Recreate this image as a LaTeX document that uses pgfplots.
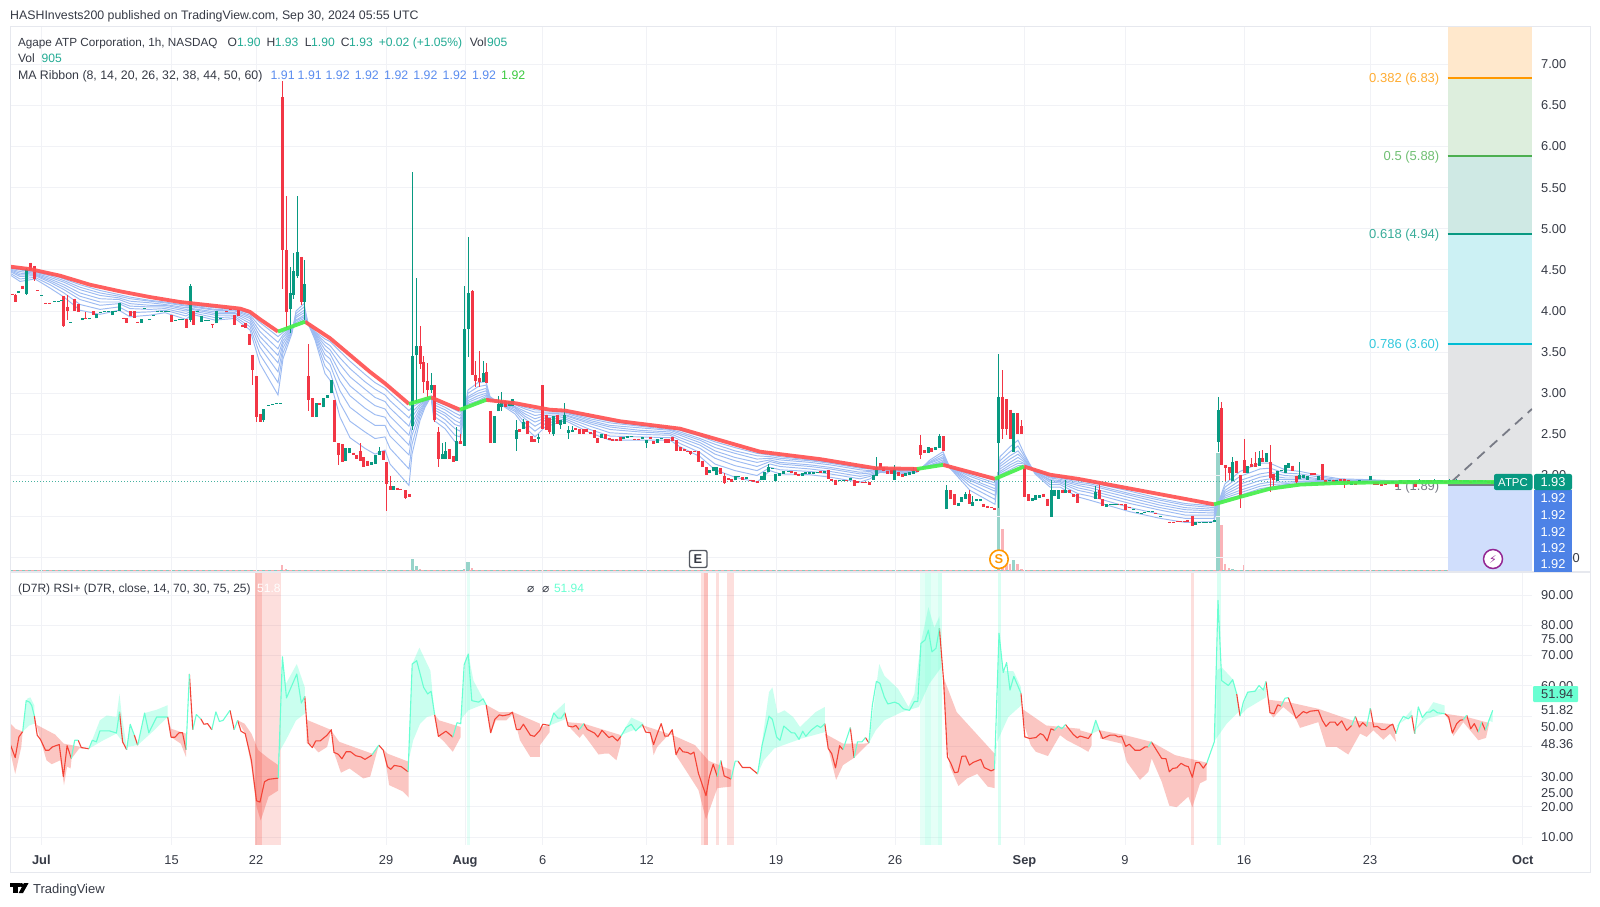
\documentclass[border=0pt]{standalone}
\usepackage{pgfplots}
\usepackage{pgfplotstable}
\usepackage{fontspec}
\setmainfont{Liberation Sans}
\newfontfamily\djv{DejaVu Sans}
\pgfplotsset{compat=1.18}
\definecolor{gridc}{HTML}{F1F2F6}
\definecolor{frame}{HTML}{E6E8EE}
\definecolor{txt}{HTML}{363A45}
\definecolor{cred}{HTML}{F23645}
\definecolor{cgreen}{HTML}{089981}
\definecolor{lgreen}{HTML}{22AB94}
\definecolor{rib}{HTML}{9DBBF2}
\definecolor{mared}{HTML}{FF5252}
\definecolor{magreen}{HTML}{45EE4A}
\definecolor{tagblue}{HTML}{4D82E6}
\definecolor{valblue}{HTML}{5B8DEF}
\definecolor{rsir}{HTML}{F44336}
\definecolor{rsit}{HTML}{69FFD2}
\definecolor{fiborange}{HTML}{FF9800}
\definecolor{fibgreen}{HTML}{4CAF50}
\definecolor{fibcyan}{HTML}{00BCD4}
\definecolor{fibgray}{HTML}{787B86}
\definecolor{bandA}{HTML}{FFE8CC}
\definecolor{bandB}{HTML}{DDEEDD}
\definecolor{bandC}{HTML}{CFE9E4}
\definecolor{bandD}{HTML}{CCF1F4}
\definecolor{bandE}{HTML}{E3E4E6}
\definecolor{bandF}{HTML}{D0DEFC}
\def\fsz{12.6}
\newcommand{\fnt}{\fontsize{\fsz}{15}\selectfont}
\newcommand{\tl}[4][txt]{\node[anchor=base west,inner sep=0pt,text=#1,font=\fnt] at (#2pt,{(906-#3-4.5)*1pt}) {#4};}
\newcommand{\tr}[4][txt]{\node[anchor=base east,inner sep=0pt,text=#1,font=\fnt] at (#2pt,{(906-#3-4.5)*1pt}) {#4};}
\newcommand{\tc}[4][txt]{\node[anchor=base,inner sep=0pt,text=#1,font=\fnt] at (#2pt,{(906-#3-4.5)*1pt}) {#4};}

\pgfplotstableread{
x o h l c
12 4.21 4.21 4.20 4.20
15 4.19 4.21 4.11 4.11
22.5 4.31 4.31 4.27 4.27
30.4 4.59 4.59 4.50 4.50
34 4.55 4.55 4.37 4.39
37.5 4.25 4.25 4.24 4.24
45 4.10 4.10 4.09 4.09
49 4.10 4.10 4.09 4.09
63.6 4.18 4.18 3.81 3.82
67 4.05 4.20 3.89 4.00
74 4.15 4.15 4.00 4.00
78 4.08 4.08 3.99 3.99
85.7 3.92 3.99 3.90 3.91
93.6 4.00 4.00 3.95 3.95
123 3.92 3.92 3.91 3.91
126 3.91 3.91 3.86 3.86
130 4.00 4.00 3.94 3.94
134 4.00 4.00 3.92 3.92
137.5 3.87 3.87 3.85 3.85
171 3.95 3.95 3.87 3.87
186 3.90 3.90 3.79 3.79
193 4.00 4.00 3.83 3.83
212.5 3.84 3.84 3.79 3.83
226 4.00 4.00 3.99 3.99
230 4.02 4.02 4.01 4.01
234 3.95 3.95 3.83 3.83
238 4.01 4.01 3.94 3.94
242 3.83 3.83 3.80 3.80
245 3.85 3.85 3.79 3.79
249 3.72 3.72 3.59 3.59
252.5 3.47 3.47 3.10 3.28
256 3.21 3.21 2.65 2.71
260 2.75 2.75 2.65 2.65
282 6.60 6.80 4.27 4.74
286 4.74 5.40 3.79 3.99
301.4 4.66 4.66 4.07 4.11
308.6 3.21 3.60 2.79 2.92
312 2.94 2.94 2.71 2.71
319.6 2.88 2.88 2.86 2.86
334 2.92 2.92 2.41 2.41
338 2.39 2.39 2.13 2.25
342 2.38 2.38 2.17 2.17
353 2.28 2.28 2.25 2.25
356 2.25 2.25 2.20 2.20
360 2.30 2.39 2.18 2.18
363.6 2.22 2.22 2.10 2.10
367 2.18 2.18 2.12 2.12
383 2.30 2.30 2.19 2.19
386.4 2.16 2.16 1.57 1.90
390 1.87 1.99 1.82 1.82
397 1.85 1.85 1.82 1.82
400.7 1.84 1.84 1.82 1.82
405 1.82 1.82 1.71 1.73
409 1.77 1.77 1.74 1.74
420 3.57 3.82 3.30 3.36
423.6 3.38 3.45 3.00 3.14
427.5 3.15 3.37 2.95 3.04
434.6 3.10 3.10 2.65 2.67
438.6 2.53 2.59 2.11 2.20
449 2.32 2.32 2.20 2.20
453 2.24 2.24 2.16 2.16
460.7 2.42 2.50 2.38 2.38
472 4.24 4.26 3.22 3.22
475.4 3.22 3.39 3.08 3.15
479 3.19 3.51 3.08 3.14
486.4 3.26 3.37 3.12 3.12
490 2.79 2.79 2.39 2.39
505 2.91 2.91 2.83 2.83
519.6 2.56 2.56 2.53 2.53
527.5 2.66 2.66 2.51 2.51
531 2.48 2.48 2.41 2.41
534.6 2.44 2.44 2.41 2.41
542.7 3.10 3.10 2.56 2.56
546.4 2.74 2.74 2.55 2.55
549.6 2.70 2.70 2.51 2.53
557 2.74 2.74 2.63 2.63
575.5 2.58 2.58 2.55 2.55
579 2.57 2.57 2.51 2.51
583 2.57 2.57 2.50 2.50
586.5 2.57 2.57 2.53 2.53
590 2.53 2.53 2.51 2.51
594 2.55 2.55 2.46 2.46
597.5 2.46 2.46 2.40 2.40
605.4 2.50 2.50 2.45 2.45
609 2.46 2.46 2.43 2.43
612.3 2.45 2.45 2.42 2.42
616.4 2.44 2.44 2.42 2.42
620 2.47 2.47 2.42 2.42
634.7 2.45 2.45 2.43 2.43
638.8 2.45 2.45 2.43 2.43
650 2.47 2.47 2.44 2.44
653.6 2.42 2.42 2.38 2.38
665 2.45 2.45 2.40 2.40
668.4 2.45 2.45 2.40 2.40
672.6 2.47 2.47 2.42 2.42
676.4 2.43 2.43 2.30 2.30
680 2.35 2.35 2.30 2.30
684 2.32 2.32 2.30 2.30
687.4 2.30 2.30 2.29 2.29
690.8 2.30 2.30 2.25 2.26
694.3 2.30 2.30 2.29 2.29
698.4 2.30 2.30 2.17 2.17
702 2.18 2.18 2.11 2.11
706 2.10 2.10 2.01 2.01
720.8 2.09 2.09 2.02 2.02
724.2 1.99 2.03 1.90 1.91
728 1.97 1.97 1.94 1.94
731.5 1.96 1.96 1.92 1.92
742.5 1.98 1.98 1.95 1.95
750 1.95 1.95 1.93 1.93
753.5 1.94 1.94 1.92 1.92
757.3 1.93 1.93 1.91 1.91
791.7 2.05 2.05 2.03 2.03
795.2 2.04 2.04 2.01 2.01
798.6 2.02 2.02 1.99 1.99
820.6 2.05 2.05 2.03 2.03
828.2 2.07 2.07 1.96 1.96
831.7 1.96 1.96 1.93 1.93
835 1.95 1.95 1.89 1.89
846.5 1.94 1.94 1.93 1.93
854 1.94 1.94 1.87 1.87
857.8 1.93 1.93 1.91 1.91
862 1.92 1.92 1.91 1.91
865.4 1.92 1.92 1.91 1.91
869.2 1.92 1.92 1.89 1.89
880.2 2.15 2.15 2.09 2.09
883.7 2.11 2.11 2.06 2.06
887.5 2.06 2.06 2.02 2.02
891.2 2.07 2.07 2.02 2.02
898.5 2.04 2.04 2.00 2.00
902 2.02 2.02 1.98 1.98
917 2.08 2.08 2.04 2.04
920.9 2.37 2.49 2.20 2.25
924.3 2.31 2.31 2.27 2.27
931.9 2.34 2.34 2.29 2.29
943.2 2.48 2.48 2.30 2.30
950.5 1.82 1.82 1.72 1.72
954.3 1.77 1.77 1.64 1.64
969 1.78 1.82 1.66 1.66
983.9 1.66 1.66 1.62 1.62
987.3 1.63 1.63 1.61 1.61
991 1.62 1.62 1.60 1.60
994.6 1.60 1.60 1.58 1.58
1002.8 2.96 3.28 2.45 2.57
1006.3 2.93 2.93 2.49 2.57
1010 2.80 2.80 2.45 2.45
1017.6 2.76 2.76 2.51 2.51
1021.4 2.60 2.68 2.50 2.50
1024.5 2.11 2.11 1.74 1.74
1028.3 1.77 1.77 1.69 1.69
1043 1.78 1.78 1.74 1.74
1047.2 1.72 1.72 1.63 1.63
1062 1.83 1.83 1.79 1.79
1069.3 1.82 1.82 1.79 1.79
1073 1.77 1.77 1.74 1.74
1077 1.78 1.78 1.67 1.67
1099 1.82 1.88 1.71 1.71
1102.7 1.71 1.71 1.63 1.63
1117 1.66 1.66 1.65 1.65
1121.7 1.65 1.65 1.64 1.64
1125 1.65 1.65 1.58 1.58
1129 1.62 1.62 1.61 1.61
1155 1.55 1.55 1.53 1.53
1169 1.44 1.44 1.43 1.43
1173 1.44 1.44 1.43 1.43
1177 1.45 1.45 1.44 1.44
1180 1.45 1.45 1.44 1.44
1184 1.45 1.45 1.43 1.43
1187 1.46 1.46 1.44 1.44
1192 1.51 1.51 1.39 1.39
1221.7 2.82 2.90 2.13 2.13
1225 2.13 2.13 1.93 2.09
1229 2.10 2.10 1.94 2.03
1236.7 2.18 2.18 2.03 2.03
1240 2.01 2.01 1.61 1.73
1244 2.19 2.44 2.03 2.03
1251 2.14 2.21 2.10 2.10
1255 2.15 2.29 2.11 2.11
1262.7 2.21 2.31 2.17 2.17
1270 2.17 2.37 1.80 1.97
1273.7 2.02 2.02 1.87 1.95
1292 2.12 2.12 2.06 2.06
1296 2.00 2.00 1.90 1.92
1311 2.03 2.03 2.01 2.01
1314.7 2.03 2.03 2.01 2.01
1322 2.14 2.14 1.95 1.95
1325.7 1.94 1.94 1.90 1.90
1333 1.95 1.95 1.92 1.92
1340.7 1.96 1.96 1.93 1.93
1344 1.96 1.96 1.85 1.92
1348 1.95 1.95 1.90 1.90
1355.3 1.91 1.91 1.89 1.89
1374 1.92 1.92 1.88 1.88
1377.7 1.92 1.92 1.88 1.88
1381.7 1.90 1.90 1.87 1.87
1385 1.91 1.91 1.88 1.88
1388.7 1.92 1.92 1.90 1.90
1396 1.90 1.90 1.86 1.86
1404 1.92 1.92 1.90 1.90
1415 1.92 1.92 1.86 1.86
1430 1.94 1.94 1.92 1.92
1445 1.93 1.93 1.91 1.91
1460 1.94 1.94 1.92 1.92
1470 1.93 1.93 1.91 1.91
1478 1.94 1.94 1.92 1.92
1488 1.93 1.93 1.91 1.91
}\redc

\pgfplotstableread{
x o h l c
18.6 4.22 4.24 4.22 4.24
26 4.21 4.52 4.20 4.51
41 4.19 4.20 4.19 4.20
54 4.11 4.12 4.11 4.12
58 4.11 4.12 4.11 4.12
61 4.12 4.13 4.12 4.13
70.7 3.86 3.87 3.86 3.87
82 3.89 3.92 3.89 3.92
89 3.90 3.91 3.90 3.91
96.4 3.91 3.96 3.91 3.96
100 3.98 3.99 3.98 3.99
104 3.99 4.00 3.99 4.00
108 3.99 4.00 3.99 4.00
112 3.95 4.00 3.95 4.00
115 3.99 4.00 3.99 4.00
119 4.00 4.10 4.00 4.10
141 3.86 3.90 3.86 3.90
144.6 4.03 4.04 4.03 4.04
149 3.89 3.90 3.89 3.90
153 3.94 3.95 3.94 3.95
157 3.99 4.00 3.99 4.00
161 3.99 4.00 3.99 4.00
165 3.99 4.00 3.99 4.00
168 3.99 4.00 3.99 4.00
175 3.88 3.89 3.88 3.89
179 3.89 3.90 3.89 3.90
182 3.89 3.90 3.89 3.90
190 3.89 4.33 3.87 4.31
197 3.99 4.00 3.99 4.00
201 3.87 3.94 3.87 3.94
205 3.88 3.89 3.88 3.89
208 3.88 3.89 3.88 3.89
216 3.85 4.00 3.85 4.00
220 3.91 3.92 3.91 3.92
263.6 2.67 2.81 2.65 2.81
268 2.85 2.86 2.85 2.86
272 2.86 2.87 2.86 2.87
276 2.87 2.88 2.87 2.88
280 2.87 2.88 2.87 2.88
290 4.02 4.54 3.73 4.22
293.6 4.20 4.70 4.15 4.49
297.5 4.42 5.40 4.40 4.72
304.6 4.11 4.62 3.89 4.33
316 2.71 2.88 2.71 2.88
323 2.83 2.94 2.83 2.94
327 2.94 2.98 2.94 2.98
331 3.00 3.16 3.00 3.16
345 2.18 2.34 2.18 2.34
349 2.27 2.34 2.27 2.34
371 2.13 2.16 2.13 2.16
375 2.14 2.25 2.14 2.25
379 2.25 2.35 2.25 2.30
393.6 1.83 1.87 1.83 1.87
412.5 2.60 5.69 2.55 3.45
416.4 3.46 4.40 2.90 3.57
431 3.04 3.25 3.00 3.10
442 2.20 2.39 2.20 2.26
445.7 2.20 2.41 2.20 2.30
456.8 2.18 2.59 2.18 2.42
464.3 2.36 4.30 2.36 3.78
468 3.78 4.90 3.44 4.22
483 3.14 3.39 3.14 3.25
494 2.40 2.73 2.40 2.73
498 2.78 2.97 2.78 2.87
501.4 2.83 3.01 2.79 2.91
509 2.85 2.91 2.85 2.91
512.5 2.85 2.93 2.85 2.93
516 2.45 2.68 2.30 2.55
523 2.57 2.69 2.57 2.65
538 2.45 2.50 2.40 2.47
553.8 2.50 2.73 2.48 2.73
560.7 2.61 2.67 2.57 2.67
564.8 2.63 2.88 2.63 2.74
568 2.52 2.60 2.44 2.55
572 2.53 2.60 2.53 2.55
601.3 2.46 2.50 2.46 2.50
623.7 2.45 2.47 2.45 2.47
627 2.46 2.48 2.46 2.48
631 2.47 2.48 2.47 2.48
642.6 2.45 2.47 2.45 2.47
646.4 2.39 2.43 2.34 2.43
657.8 2.40 2.44 2.40 2.44
661 2.44 2.46 2.44 2.46
709.4 2.03 2.07 2.03 2.07
713.2 2.05 2.11 2.05 2.11
716.7 2.01 2.11 2.01 2.11
735.2 1.94 2.00 1.94 2.00
738.7 1.98 2.00 1.98 2.00
746.6 1.96 1.98 1.96 1.98
761 1.94 2.00 1.94 2.00
764.9 1.95 2.04 1.95 2.04
768.7 2.04 2.14 2.04 2.10
772 2.08 2.09 2.08 2.09
775.9 1.93 2.02 1.93 2.02
779.7 2.00 2.03 2.00 2.03
783.8 2.02 2.05 2.02 2.05
788 2.05 2.06 2.05 2.06
802.4 2.00 2.03 2.00 2.03
805.8 2.02 2.04 2.02 2.04
809.6 2.02 2.04 2.02 2.04
813.8 2.02 2.04 2.02 2.04
817.2 2.03 2.04 2.03 2.04
824.4 2.03 2.05 2.03 2.05
839 1.94 1.95 1.94 1.95
843 1.94 1.95 1.94 1.95
850.3 1.94 1.97 1.94 1.97
873 1.95 2.01 1.95 2.01
876.4 1.99 2.22 1.99 2.10
894.7 1.95 2.13 1.95 2.08
905.7 2.00 2.03 2.00 2.03
909.5 2.01 2.04 2.01 2.04
913.6 2.02 2.10 2.02 2.05
928 2.28 2.35 2.28 2.35
935.3 2.31 2.35 2.31 2.35
939.5 2.34 2.50 2.34 2.48
946.7 1.59 1.89 1.59 1.83
958 1.63 1.67 1.63 1.67
961.5 1.68 1.74 1.68 1.74
965.3 1.72 1.80 1.72 1.77
972.8 1.63 1.75 1.63 1.68
976.6 1.69 1.71 1.69 1.71
980 1.69 1.71 1.69 1.71
998.7 2.40 3.48 1.60 2.96
1013.5 2.29 2.76 2.29 2.76
1032 1.69 1.73 1.69 1.73
1035.9 1.70 1.76 1.70 1.76
1039.3 1.73 1.76 1.73 1.76
1051 1.50 1.94 1.50 1.82
1054.5 1.75 1.82 1.75 1.82
1058 1.72 1.83 1.72 1.83
1065.5 1.79 1.94 1.79 1.83
1095 1.72 1.87 1.72 1.80
1106.7 1.62 1.66 1.62 1.66
1110 1.64 1.65 1.64 1.65
1113 1.64 1.65 1.64 1.65
1116 1.64 1.65 1.64 1.65
1133 1.58 1.59 1.58 1.59
1137 1.55 1.56 1.55 1.56
1141 1.54 1.55 1.54 1.55
1144 1.55 1.56 1.55 1.56
1148 1.56 1.57 1.56 1.57
1152 1.56 1.57 1.56 1.57
1160 1.50 1.51 1.50 1.51
1195.7 1.40 1.43 1.40 1.43
1199 1.43 1.44 1.43 1.44
1203 1.43 1.44 1.43 1.44
1206 1.43 1.44 1.43 1.44
1210 1.43 1.44 1.43 1.44
1214 1.44 1.46 1.44 1.46
1218 2.41 2.95 2.29 2.80
1232.7 1.93 2.22 1.93 2.17
1247.7 2.03 2.12 2.03 2.12
1259 2.12 2.30 2.12 2.21
1266 2.17 2.28 2.17 2.28
1277 1.93 2.06 1.93 2.06
1281 2.05 2.07 2.05 2.07
1285 2.03 2.13 2.03 2.13
1288.7 2.09 2.15 2.09 2.15
1299.7 1.96 2.17 1.96 2.01
1303 1.97 2.01 1.97 2.01
1307 1.95 2.00 1.95 2.00
1318 1.94 2.00 1.94 2.00
1329 1.93 1.95 1.93 1.95
1336.7 1.92 1.95 1.92 1.95
1351.7 1.89 1.92 1.89 1.92
1359 1.92 1.94 1.92 1.94
1363 1.92 1.93 1.92 1.93
1366.7 1.92 1.93 1.92 1.93
1370.3 1.94 2.00 1.94 2.00
1392.7 1.91 1.93 1.91 1.93
1400 1.91 1.94 1.91 1.94
1408 1.92 1.94 1.92 1.94
1411 1.92 1.93 1.92 1.93
1419 1.92 1.96 1.92 1.94
1423 1.92 1.95 1.92 1.94
1427 1.92 1.94 1.92 1.94
1434 1.93 1.96 1.93 1.95
1438 1.93 1.95 1.93 1.95
1441 1.92 1.95 1.92 1.94
1449 1.92 1.96 1.92 1.94
1453 1.93 1.95 1.93 1.94
1456 1.93 1.96 1.93 1.95
1464 1.92 1.95 1.92 1.94
1467 1.92 1.94 1.92 1.94
1474 1.92 1.95 1.92 1.94
1481 1.92 1.94 1.92 1.94
1485 1.92 1.94 1.92 1.93
1492 1.90 1.93 1.90 1.93
}\greenc

\pgfplotstableread{
x m8 m14 m20 m26 m32 m38 m44 m50
10 4.44 4.46 4.48 4.49 4.50 4.51 4.52 4.53
20 4.36 4.39 4.42 4.44 4.46 4.48 4.50 4.51
35 4.39 4.41 4.43 4.44 4.45 4.46 4.47 4.48
50 4.28 4.32 4.35 4.37 4.39 4.41 4.43 4.45
64 4.17 4.22 4.26 4.29 4.32 4.35 4.37 4.39
80 4.01 4.08 4.14 4.18 4.22 4.26 4.29 4.32
100 3.96 4.02 4.07 4.11 4.15 4.19 4.22 4.25
119 4.01 4.05 4.09 4.11 4.14 4.16 4.18 4.20
130 3.93 3.98 4.03 4.06 4.09 4.12 4.15 4.17
150 3.95 3.99 4.02 4.05 4.07 4.10 4.12 4.13
165 3.98 4.01 4.03 4.05 4.07 4.08 4.10 4.11
186 3.90 3.94 3.97 4.00 4.02 4.04 4.06 4.07
192 3.96 3.98 4.00 4.02 4.03 4.05 4.06 4.07
215 3.89 3.92 3.95 3.97 3.99 4.01 4.02 4.04
235 3.91 3.93 3.95 3.97 3.98 4.00 4.01 4.02
250 3.77 3.81 3.85 3.88 3.91 3.93 3.95 3.97
260 3.36 3.47 3.56 3.63 3.69 3.75 3.81 3.86
278 2.98 3.13 3.26 3.37 3.46 3.54 3.62 3.69
283 3.42 3.49 3.55 3.60 3.64 3.68 3.71 3.74
292 3.73 3.75 3.76 3.77 3.78 3.79 3.80 3.80
296 4.00 3.97 3.94 3.92 3.89 3.88 3.86 3.84
304 4.09 4.05 4.01 3.98 3.95 3.93 3.91 3.89
308 3.85 3.85 3.85 3.85 3.84 3.84 3.84 3.84
315 3.65 3.67 3.69 3.71 3.72 3.73 3.74 3.75
325 3.24 3.33 3.41 3.47 3.53 3.58 3.62 3.66
330 3.16 3.26 3.35 3.42 3.48 3.53 3.58 3.63
340 2.71 2.88 3.03 3.15 3.25 3.35 3.43 3.51
350 2.46 2.66 2.83 2.97 3.09 3.20 3.30 3.39
365 2.33 2.53 2.69 2.82 2.94 3.05 3.14 3.23
375 2.26 2.45 2.61 2.74 2.85 2.95 3.05 3.13
385 2.31 2.47 2.61 2.71 2.81 2.90 2.98 3.06
390 2.14 2.33 2.48 2.61 2.72 2.82 2.91 3.00
409 1.88 2.08 2.25 2.37 2.49 2.60 2.70 2.79
412 2.26 2.38 2.49 2.57 2.64 2.71 2.77 2.83
420 2.67 2.72 2.76 2.79 2.82 2.85 2.87 2.89
425 2.83 2.85 2.87 2.88 2.89 2.90 2.91 2.92
431 2.96 2.96 2.96 2.96 2.95 2.95 2.95 2.95
434 2.67 2.72 2.77 2.80 2.83 2.86 2.89 2.91
445 2.57 2.63 2.68 2.73 2.76 2.80 2.83 2.86
455 2.41 2.49 2.57 2.62 2.67 2.72 2.76 2.80
460 2.39 2.47 2.54 2.60 2.64 2.69 2.73 2.77
463 2.67 2.70 2.72 2.74 2.76 2.77 2.79 2.80
468 3.04 3.00 2.96 2.94 2.91 2.89 2.87 2.85
478 3.13 3.08 3.03 3.00 2.97 2.94 2.91 2.89
486 3.14 3.10 3.06 3.03 3.00 2.98 2.96 2.94
490 2.96 2.95 2.94 2.94 2.93 2.92 2.92 2.91
505 2.83 2.84 2.85 2.86 2.87 2.87 2.88 2.89
515 2.75 2.78 2.80 2.82 2.83 2.84 2.86 2.87
525 2.59 2.64 2.69 2.72 2.75 2.78 2.81 2.83
535 2.47 2.54 2.60 2.65 2.69 2.73 2.77 2.80
545 2.59 2.63 2.67 2.70 2.73 2.75 2.77 2.79
565 2.67 2.69 2.71 2.73 2.74 2.76 2.77 2.78
590 2.52 2.56 2.60 2.63 2.65 2.67 2.69 2.71
610 2.43 2.48 2.52 2.56 2.59 2.61 2.64 2.66
640 2.43 2.47 2.50 2.53 2.55 2.58 2.60 2.61
670 2.43 2.46 2.49 2.51 2.53 2.55 2.56 2.58
680 2.35 2.39 2.43 2.46 2.49 2.51 2.53 2.55
700 2.23 2.28 2.33 2.37 2.40 2.43 2.45 2.48
715 2.07 2.14 2.21 2.26 2.30 2.34 2.38 2.41
735 1.98 2.06 2.12 2.18 2.22 2.27 2.30 2.34
757 1.92 2.00 2.06 2.11 2.16 2.20 2.24 2.27
770 2.06 2.10 2.14 2.17 2.19 2.21 2.23 2.25
780 2.02 2.07 2.11 2.14 2.16 2.19 2.21 2.23
810 2.01 2.05 2.08 2.11 2.13 2.16 2.18 2.19
830 1.98 2.02 2.05 2.08 2.10 2.13 2.15 2.16
860 1.92 1.96 1.99 2.02 2.04 2.07 2.09 2.10
870 1.96 1.99 2.01 2.03 2.05 2.06 2.08 2.09
880 2.04 2.05 2.06 2.07 2.07 2.08 2.08 2.09
900 2.02 2.03 2.04 2.05 2.06 2.06 2.07 2.08
917 2.04 2.05 2.055 2.06 2.065 2.07 2.07 2.08
930 2.19 2.17 2.16 2.15 2.13 2.12 2.12 2.11
943 2.29 2.26 2.23 2.21 2.19 2.17 2.16 2.14
950 2.09 2.09 2.09 2.09 2.10 2.10 2.10 2.10
970 1.82 1.87 1.91 1.94 1.96 1.99 2.01 2.03
995 1.65 1.71 1.76 1.81 1.84 1.88 1.91 1.94
1000 2.23 2.18 2.14 2.11 2.08 2.05 2.03 2.01
1010 2.35 2.29 2.24 2.20 2.16 2.13 2.10 2.07
1018 2.43 2.36 2.30 2.26 2.22 2.18 2.15 2.12
1024 2.27 2.24 2.21 2.19 2.17 2.15 2.14 2.12
1035 2.02 2.03 2.04 2.05 2.05 2.06 2.06 2.07
1050 1.86 1.89 1.92 1.94 1.95 1.97 1.98 2.00
1060 1.86 1.89 1.91 1.925 1.94 1.955 1.97 1.98
1078 1.74 1.78 1.82 1.85 1.88 1.90 1.92 1.94
1090 1.70 1.75 1.79 1.82 1.85 1.88 1.90 1.92
1130 1.56 1.61 1.66 1.695 1.73 1.76 1.78 1.81
1160 1.48 1.53 1.58 1.61 1.64 1.67 1.70 1.72
1185 1.43 1.48 1.52 1.555 1.585 1.61 1.64 1.66
1214 1.44 1.48 1.52 1.545 1.57 1.59 1.61 1.63
1218 1.66 1.66 1.66 1.66 1.66 1.66 1.66 1.66
1225 1.90 1.86 1.82 1.795 1.77 1.75 1.73 1.71
1240 2.05 1.99 1.94 1.895 1.86 1.82 1.79 1.76
1260 2.15 2.08 2.02 1.98 1.94 1.90 1.87 1.84
1270 2.15 2.09 2.04 2.00 1.96 1.92 1.89 1.86
1285 2.07 2.03 2.00 1.97 1.95 1.92 1.90 1.89
1300 2.05 2.02 1.99 1.97 1.95 1.93 1.92 1.90
1320 2.00 1.98 1.96 1.95 1.94 1.93 1.92 1.91
1340 1.96 1.95 1.94 1.935 1.93 1.925 1.92 1.915
1370 1.95 1.94 1.935 1.93 1.93 1.925 1.92 1.92
1400 1.93 1.93 1.93 1.925 1.925 1.92 1.92 1.92
1497 1.92 1.92 1.92 1.92 1.92 1.92 1.92 1.92
}\ribbon

\pgfplotstableread{
x y
10 4.54
30 4.51
60 4.43
90 4.32
120 4.24
150 4.17
180 4.11
210 4.07
240 4.03
250 3.99
260 3.90
278 3.75
0 nan
305 3.87
330 3.67
370 3.26
385 3.12
409 2.87
0 nan
431 2.95
460 2.80
0 nan
486 2.92
515 2.88
550 2.80
565 2.79
620 2.66
680 2.57
700 2.50
760 2.29
820 2.20
875 2.09
917 2.08
0 nan
943 2.13
995 1.96
0 nan
1024 2.11
1050 2.01
1078 1.96
1214 1.65
}\mared

\pgfplotstableread{
x y
278 3.75
305 3.87
0 nan
409 2.87
431 2.95
0 nan
460 2.80
486 2.92
0 nan
917 2.08
943 2.13
0 nan
995 1.96
1024 2.11
0 nan
1214 1.65
1240 1.74
1270 1.84
1300 1.89
1340 1.91
1400 1.92
1497 1.92
}\magreen

\pgfplotstableread{
x v
282 7
286 3
297 2
420 3
472 4
475.4 2
1002.8 43
1006.3 10
1010 8
1017.6 8
1021.4 3
1024.5 2
1221.7 47
1225 8
1229 4
1236.7 2
1240 2
1244 7
1251 2
}\volr

\pgfplotstableread{
x v
412.5 13
416.4 6
464.3 3
468 10
998.7 100
1013.5 12
1218 119
1232.7 3
1247.7 2
}\volg

\pgfplotstableread{
x y
10 40.9
15.2 36.3
18.9 43.1
22.7 44.9
0 nan
34.4 50
37.2 43.7
40.6 42.2
45.5 38.7
48.9 38.7
52.3 39.8
59.2 40.6
63.4 30
67.1 40.2
71.3 36
0 nan
78.2 42
81.3 39.6
88.8 39.2
0 nan
119.5 51.4
122.6 41.5
126.7 38.9
0 nan
134.3 43.7
137.7 40.4
0 nan
167.7 49.7
171.1 43
174.9 43
179.1 44.5
182.5 44.5
186 38.9
0 nan
189.4 63.9
192.8 45.5
0 nan
200.8 49.1
203.9 47.3
207.6 47.5
211.8 45.5
0 nan
230 51.9
234.2 45.5
0 nan
237.6 48.6
241 45
245.2 44.2
251.4 35.4
256.5 22
260 21.6
264.5 28.3
268.6 29.1
278.2 29.5
0 nan
304.8 56.5
308.2 41.1
312.3 39.6
315.8 41.8
320.2 41.8
327.1 43.7
331.3 45.5
334 38
338.2 37.4
341.9 35.9
346.1 38.2
350.6 38.2
355.7 36.9
360.9 36.5
365 35.7
371.9 37.1
0 nan
378.8 40.4
383.3 38.7
387.4 33.3
390.8 32.4
394.3 33.7
401.2 33.3
408.1 31.6
0 nan
434.6 50.5
438.4 43.3
445.9 45
452.8 43.1
0 nan
486.2 53.7
490.7 44.5
494.8 48.9
499.3 50.4
502.8 50.1
509 50.5
512.4 51.3
516.5 45.5
520 45.6
523.4 47.3
530.3 43.7
534.4 43.3
539.9 45.3
542.8 47.3
549.6 46.9
0 nan
564.8 51.1
568.2 46.7
572.7 46.4
575.8 46.9
579.3 45.5
0 nan
583.7 47.5
587.2 45.6
594.4 44.4
597.9 43.1
602 45.3
608.9 42.9
612.3 43.4
617.5 41.8
620.9 43.3
0 nan
642.3 47.3
645.7 44.7
650.2 44.5
653.6 40.6
657.1 44
661.2 47.5
664.7 43.4
668.1 43.4
672.2 45.5
676 37.3
679.5 39.6
682.9 38.2
687.4 38
690.8 37.4
693.9 38.1
698.4 31.1
701.8 27.8
706 23.7
709.4 30
713.2 34.1
717.3 30
0 nan
720.8 35.3
724.2 30.2
731.1 29.2
0 nan
738 35.1
742.5 33
750 33
757.6 30.9
0 nan
824.8 47.5
828.2 39.3
831.7 37.6
835.5 32.9
839.6 40.2
843 38.9
0 nan
850.3 46.2
854 36.2
0 nan
865.4 42.9
868.9 41.1
0 nan
939.4 79
943.6 61.7
947.4 36.5
950.8 34.4
954.6 31.3
958 31.5
961.8 36.7
965.6 36.8
969.4 33.8
973.2 34.7
980.8 35.7
984.2 33
991.1 31.9
994.5 32.4
0 nan
1021 57.5
1024.8 43.1
1029.7 42.6
1035.9 42.9
1040.3 44.2
1043.4 43.7
1047.2 41.8
1051 45.8
1054.5 45.3
0 nan
1065.5 47.2
1073.1 44
1077.2 42.8
1080 43.4
1088.3 42.6
1091.7 44.2
0 nan
1099.3 45.3
1102.7 42.6
1110 43.7
1115 43.7
1118.3 43.1
1121.7 43.3
1125.7 40
1129.3 40.7
1135 38.7
1140 38.7
1145 39.8
1148.3 39.8
0 nan
1151.3 41.5
1161.7 36
1166 35.9
1169.3 31.6
1172.7 32.7
1176.7 32.9
1181 34.4
1185 33.6
1188.3 33.3
1192.3 29.8
1195.7 34.6
1199.3 34.6
1203.3 32.8
1206.7 34.4
0 nan
1236.7 57.3
1240 50
0 nan
1266 61.4
1270 51.1
1274 50.8
1277.7 53.7
1281 53.3
0 nan
1288.3 56.1
1296 49.3
1303.3 51.5
1306.7 51
1310 51.6
1318.3 51.9
1322.3 48.6
1326 46.6
1330 48
1335 48
1337.3 46.9
1341.7 48.4
1346.7 45.3
1351.7 46.9
0 nan
1355.3 49.9
1359.3 46.4
1362.7 47.8
1366.7 46.6
0 nan
1370.3 52.6
1373.7 46.4
1377.3 46.6
1381.7 45.5
1385 45.5
1390 46.9
1392.7 47.3
1396 44.2
0 nan
1411.7 50.2
1414.7 44.2
0 nan
1444.7 50.8
1448.7 49.7
1452.3 44.4
1456.7 47.5
1460 48.6
1463.3 48.8
0 nan
1466.7 50.3
1470.7 45.8
1474.3 47.5
1478.3 44.7
0 nan
1481.7 48
1485.3 45.3
}\rsired

\pgfplotstableread{
x y
22.7 44.9
26.2 55.1
29.6 54.6
31.7 53.5
34.4 50
0 nan
71.3 36
74.7 42
78.2 42
0 nan
88.8 39.2
92.3 42
96.4 41.5
99.9 45.1
109.5 45.1
116.4 44.4
119.5 51.4
0 nan
126.7 38.9
130.2 47.3
134.3 43.7
0 nan
137.7 40.4
144.6 51
148.8 44.5
156.7 49.7
167.7 49.7
0 nan
186 38.9
189.4 63.9
0 nan
192.8 45.5
196.3 50.5
200.8 49.1
0 nan
211.8 45.5
215.9 51.4
219.4 48.2
223.1 48.6
230 51.9
0 nan
234.2 45.5
237.6 48.6
0 nan
278.2 29.5
282.4 69.6
286.5 56
296.8 63.9
301.3 54.3
304.8 56.5
0 nan
371.9 37.1
378.8 40.4
0 nan
408.1 31.6
412.2 67.2
416.7 68.3
423.6 59.5
427.7 57.3
431.1 58.2
434.6 50.5
0 nan
452.8 43.1
457 47.8
460.7 47.5
464.2 67
468.3 70.5
471.8 55.1
478.7 54.6
483.1 55.7
486.2 53.7
0 nan
549.6 46.9
553.8 51
557.9 49.3
561.3 49.3
564.8 51.1
0 nan
579.3 45.5
583.7 47.5
0 nan
620.9 43.3
626.1 46.2
631.3 47.3
635.7 45.1
642.3 47.3
0 nan
717.3 30
720.8 35.3
0 nan
731.1 29.2
735.2 35.1
738 35.1
0 nan
757.6 30.9
762.1 40.4
769 50
772.4 48.9
776.6 43.1
780 42
783.8 46.7
791.4 44.5
794.8 44.4
799 42.3
802.7 45
805.8 43.3
811 45.3
817.2 46.9
820.6 46.2
824.8 47.5
0 nan
843 38.9
850.3 46.2
0 nan
854 36.2
857.5 41.5
862 41.5
865.4 42.9
0 nan
868.9 41.1
872.3 53.5
876.4 61.5
879.9 60.8
884.4 56.2
887.8 54
894.7 54.6
898.8 54
903.3 52.4
909.5 51.9
914.3 54.8
917.8 54.8
920.9 74
925 75.1
928.4 78.4
931.9 71.2
936 72.4
939.4 79
0 nan
994.5 32.4
999 77.4
1003.2 64.4
1006.6 67.7
1010 58.6
1013.8 63.1
1021 57.5
0 nan
1054.5 45.3
1058.3 46.7
1061.7 45.8
1065.5 47.2
0 nan
1091.7 44.2
1095.7 48.6
1099.3 45.3
0 nan
1148.3 39.8
1151.3 41.5
0 nan
1206.7 34.4
1214.3 41.5
1218 88.2
1221.7 61.7
1228.3 60.1
1232.7 62
1236.7 57.3
0 nan
1240 50
1243.3 54.6
1247.7 57.9
1255 58.2
1259 60.1
1263.3 58.6
1266 61.4
0 nan
1281 53.3
1285 55.9
1288.3 56.1
0 nan
1351.7 46.9
1355.3 49.9
0 nan
1366.7 46.6
1370.3 52.6
0 nan
1396 44.2
1399.3 47.7
1403.3 49.9
1408.3 49.1
1411.7 50.2
0 nan
1414.7 44.2
1418.3 53
1422.3 49.5
1426.7 51.3
1430 51.3
1433.3 52.1
1437.3 51.1
1444.7 50.8
0 nan
1463.3 48.8
1466.7 50.3
0 nan
1478.3 44.7
1481.7 48
0 nan
1485.3 45.3
1492.7 51.9
}\rsiteal

\pgfplotsset{
  base/.style={
    scale only axis, width=1522pt, xmin=10, xmax=1532,
    axis line style={draw=none}, tick style={draw=none},
    grid=major, grid style={color=gridc,line width=1pt},
    xtick={41.3,171.5,256,386,465,542.7,646.7,776,895,1024.5,1125,1244,1370,1522.7},
    yticklabel pos=right,
    tick label style={font=\fontsize{12.85}{15}\selectfont,text=txt},
    yticklabel style={anchor=west,inner sep=0pt,xshift=9pt},
    unbounded coords=jump,
  },
  rf/.style={fill=rsir,fill opacity=.3,draw=none,forget plot},
  tf/.style={fill=rsit,fill opacity=.35,draw=none,forget plot},
  band/.style={fill=#1,draw=none,forget plot},
  rv/.style={fill=rsir,fill opacity=#1,draw=none,forget plot},
  tv/.style={fill=rsit,fill opacity=#1,draw=none,forget plot},
  wickstyle/.style={draw=none,mark=none,forget plot,
    error bars/.cd,y dir=both,y explicit,error mark=none,
    error bar style={draw=#1,solid,line width=1pt}},
  bodystyle/.style={draw=none,mark=none,forget plot,
    error bars/.cd,y dir=both,y explicit,error mark=none,
    error bar style={draw=#1,solid,line width=3pt}},
}

\begin{document}
\begin{tikzpicture}
\path[use as bounding box,fill=white] (0pt,0pt) rectangle (1600pt,906pt);
% Fibonacci level 1, under the candles
\def\fsz{13}
\tr[fibgray]{1439.5}{486}{1 (1.89)}

% volume
\begin{axis}[at={(10pt,334.3pt)},anchor=south west,width=1522pt,height=544.7pt,scale only axis,
  xmin=10,xmax=1532,ymin=0,ymax=544.7,hide axis]
\addplot[ycomb,forget plot,line width=2.8pt,color=cred!38] table[x=x,y=v]{\volr};
\addplot[ycomb,forget plot,line width=3.4pt,color=cgreen!42] table[x=x,y=v]{\volg};
\addplot[forget plot,color=cgreen!50,line width=1pt,dash pattern=on 3pt off 3pt] coordinates {(10,1.2)(1470,1.2)};
\addplot[forget plot,color=cred!45,line width=1pt,dash pattern=on 3pt off 3pt,dash phase=3pt] coordinates {(10,1.2)(1470,1.2)};
\end{axis}

% price pane
\begin{axis}[base,at={(10pt,334.3pt)},anchor=south west,height=544.7pt,
  ymin=0.831,ymax=7.4535,
  ytick={1,1.5,2,2.5,3,3.5,4,4.5,5,5.5,6,6.5,7},
  yticklabels={1.00,1.50,2.00,2.50,3.00,3.50,4.00,4.50,5.00,5.50,6.00,6.50,7.00},
  xticklabels={}]
\addplot[band=bandA] coordinates {(1447.7,7.4535)(1532,7.4535)(1532,6.83)(1447.7,6.83)} --cycle;
\addplot[band=bandB] coordinates {(1447.7,6.83)(1532,6.83)(1532,5.88)(1447.7,5.88)} --cycle;
\addplot[band=bandC] coordinates {(1447.7,5.88)(1532,5.88)(1532,4.94)(1447.7,4.94)} --cycle;
\addplot[band=bandD] coordinates {(1447.7,4.94)(1532,4.94)(1532,3.60)(1447.7,3.60)} --cycle;
\addplot[band=bandE] coordinates {(1447.7,3.60)(1532,3.60)(1532,1.89)(1447.7,1.89)} --cycle;
\addplot[band=bandF] coordinates {(1447.7,1.89)(1532,1.89)(1532,0.831)(1447.7,0.831)} --cycle;
\addplot[forget plot,color=fiborange,line width=2pt] coordinates {(1447.7,6.83)(1532,6.83)};
\addplot[forget plot,color=fibgreen,line width=2pt] coordinates {(1447.7,5.88)(1532,5.88)};
\addplot[forget plot,color=cgreen,line width=2pt] coordinates {(1447.7,4.94)(1532,4.94)};
\addplot[forget plot,color=fibcyan,line width=2pt] coordinates {(1447.7,3.60)(1532,3.60)};
\addplot[forget plot,color=fibgray,line width=2pt] coordinates {(1447.7,1.89)(1532,1.89)};
\addplot[forget plot,color=fibgray,line width=1.8pt,dash pattern=on 10pt off 7pt] coordinates {(1452,1.93)(1532,2.81)};
\addplot[forget plot,color=cgreen!75,line width=1pt,dotted] coordinates {(10,1.925)(1494,1.925)};
% ribbon
\pgfplotsinvokeforeach{m8,m14,m20,m26,m32,m38,m44,m50}{
  \addplot[forget plot,color=rib,line width=.95pt] table[x=x,y=#1]{\ribbon};
}
% candles
\addplot[wickstyle=cred] table[x=x,y=o,y error plus expr=\thisrow{h}-\thisrow{o},y error minus expr=\thisrow{o}-\thisrow{l}]{\redc};
\addplot[wickstyle=cgreen] table[x=x,y=o,y error plus expr=\thisrow{h}-\thisrow{o},y error minus expr=\thisrow{o}-\thisrow{l}]{\greenc};
\addplot[bodystyle=cred] table[x=x,y=o,y error plus expr=0,y error minus expr=\thisrow{o}-\thisrow{c}]{\redc};
\addplot[bodystyle=cgreen] table[x=x,y=o,y error plus expr=\thisrow{c}-\thisrow{o},y error minus expr=0]{\greenc};
% slowest average
\addplot[forget plot,color=mared,line width=3.8pt,line join=round,opacity=.92] table[x=x,y=y]{\mared};
\addplot[forget plot,color=magreen,line width=3.8pt,line join=round,opacity=.92] table[x=x,y=y]{\magreen};
\end{axis}

% RSI pane
\begin{axis}[base,at={(10pt,61.3pt)},anchor=south west,height=272.7pt,
  ymin=7.5,ymax=97.6,
  ytick={10,20,30,40,50,60,70,80,90},
  yticklabels={10.00,20.00,30.00,,,60.00,70.00,80.00,90.00},
  xticklabels={\textbf{Jul},15,22,29,\textbf{Aug},6,12,19,26,\textbf{Sep},9,16,23,\textbf{Oct}},
  xticklabel style={yshift=-7pt}]
\addplot[rv=.17] coordinates {(254.8,7.5)(281.3,7.5)(281.3,97.6)(254.8,97.6)} --cycle;
\addplot[rv=.2] coordinates {(254.8,7.5)(262.4,7.5)(262.4,97.6)(254.8,97.6)} --cycle;
\addplot[rv=.17] coordinates {(700.5,7.5)(708,7.5)(708,97.6)(700.5,97.6)} --cycle;
\addplot[rv=.2] coordinates {(704,7.5)(708,7.5)(708,97.6)(704,97.6)} --cycle;
\addplot[rv=.17] coordinates {(716,7.5)(719,7.5)(719,97.6)(716,97.6)} --cycle;
\addplot[rv=.17] coordinates {(727,7.5)(734,7.5)(734,97.6)(727,97.6)} --cycle;
\addplot[rv=.17] coordinates {(1191,7.5)(1194.3,7.5)(1194.3,97.6)(1191,97.6)} --cycle;
\addplot[tv=.17] coordinates {(466.6,7.5)(470,7.5)(470,97.6)(466.6,97.6)} --cycle;
\addplot[tv=.17] coordinates {(920,7.5)(942,7.5)(942,97.6)(920,97.6)} --cycle;
\addplot[tv=.12] coordinates {(925,7.5)(930.5,7.5)(930.5,97.6)(925,97.6)} --cycle;
\addplot[tv=.12] coordinates {(938.4,7.5)(942,7.5)(942,97.6)(938.4,97.6)} --cycle;
\addplot[tv=.25] coordinates {(998,7.5)(1001.4,7.5)(1001.4,97.6)(998,97.6)} --cycle;
\addplot[tv=.25] coordinates {(1217,7.5)(1220.7,7.5)(1220.7,97.6)(1217,97.6)} --cycle;
% clouds
\addplot[rf] coordinates {(10,47.7)(15.5,45.8)(22.7,44.9)(21.3,39.8)(15.2,30.9)(10,38.7)} --cycle;
\addplot[tf] coordinates {(22.7,44.9)(26.9,55.7)(30.3,56.2)(34.4,53.5)(34.4,47.5)(29.3,46.9)} --cycle;
\addplot[rf] coordinates {(34.4,49.7)(34.4,47.5)(55.1,43.9)(63.7,40.9)(88.8,39.3)(79.2,39.3)(71.6,36)(70.6,32.7)(67.1,33.3)(64,27.2)(60.3,35.4)(51.7,34.1)(46.5,35.4)(40.6,42)} --cycle;
\addplot[tf] coordinates {(88.8,39.2)(99.9,48.6)(106.8,50.2)(116.4,49.7)(119.5,57.3)(121.6,50.8)(126.7,39.8)(116.4,44.2)(103.3,42)} --cycle;
\addplot[tf] coordinates {(126.7,39.8)(130.2,47.3)(134.3,43.7)(137.7,40.4)} --cycle;
\addplot[tf] coordinates {(137.7,40.4)(144.6,51)(156.7,52.1)(167.7,53.6)(167.7,49.7)(151.5,44.5)} --cycle;
\addplot[rf] coordinates {(167.7,49.7)(171.1,45.8)(186,44.2)(186,36.5)(180.8,40.9)(171.1,43)} --cycle;
\addplot[rf] coordinates {(237.6,48.6)(244.5,47.5)(251.4,44.2)(258.3,38.7)(268.6,36)(278.2,33.8)(278.2,25.4)(268.6,23.4)(260.7,15.5)(256.5,20.1)(251.4,33.3)(245.2,44.2)} --cycle;
\addplot[tf] coordinates {(278.2,29.5)(282.4,69.6)(285.8,60.6)(296.8,67.2)(304.8,59.5)(304.8,50.8)(296.1,48.6)(285.8,42)(278.2,37.6)} --cycle;
\addplot[rf] coordinates {(306.5,48.8)(330.6,45.5)(339.2,41.5)(371.9,37.6)(378.8,40.4)(370.2,30)(363.3,29.4)(349.5,32.7)(340.9,31.3)(334,38)(331.3,45.3)(327.1,39.8)(318.5,38)(311.6,40.4)(306.5,41.1)} --cycle;
\addplot[rf] coordinates {(378.8,40.4)(387.4,37.6)(408.7,34.9)(408.7,23.1)(402.9,25.1)(389.1,27.2)(384,38.7)} --cycle;
\addplot[tf] coordinates {(408.7,35.4)(412.2,67.2)(419.4,72.6)(430.4,65)(434.6,50.5)(427,49.7)(420.1,47.5)(413.2,42)} --cycle;
\addplot[rf] coordinates {(434.6,50.5)(439,48.6)(460.7,46.4)(460.7,43.1)(452.8,38.2)(444.2,41.5)(438.4,43.3)} --cycle;
\addplot[tf] coordinates {(460.7,46.9)(464.9,67.2)(468.3,70.5)(473.5,61.7)(486.2,53.7)(482.1,53.7)(468.3,51.9)(461.4,49.1)} --cycle;
\addplot[rf] coordinates {(486.2,53.7)(499.3,51.3)(513.1,51.3)(539.9,47.5)(539.9,36.5)(530.3,36.5)(520,42)(513.1,50.8)(506.2,48.6)(495.9,48.6)(490.7,44.5)} --cycle;
\addplot[rf] coordinates {(540,46.4)(549.6,46.9)(549.6,44.7)(540,40.4)} --cycle;
\addplot[tf] coordinates {(549.6,46.9)(553.8,51)(564.8,54.4)(564.8,48.9)} --cycle;
\addplot[rf] coordinates {(567.5,48)(583.7,47.5)(620.9,43.7)(620.9,40.9)(616.4,35.4)(608.9,37.6)(604.7,37.6)(598.5,37.3)(591.7,40.4)(583,44.2)(579.6,42.8)(571,45.8)} --cycle;
\addplot[tf] coordinates {(620.9,43.7)(631.3,49.5)(643.3,47.7)(643.3,46.4)(631.3,45.1)} --cycle;
\addplot[rf] coordinates {(643.3,46.9)(672.6,43.7)(695,40.4)(708.7,35.2)(731.1,32.2)(731.1,26.7)(717.3,26.2)(706,15.8)(698.4,25.6)(688.1,30.9)(676,37.1)(672.6,45.3)(657.1,39.8)(653.6,37.1)(650.2,44.2)} --cycle;
\addplot[tf] coordinates {(757.6,30.9)(769,57.9)(772.4,59.5)(777.6,50.8)(784.5,51.9)(793.1,49.7)(800,46.4)(815.5,51.3)(824.8,53)(824.8,44.7)(801.7,42.6)(774.2,39.3)(763.8,35.4)} --cycle;
\addplot[rf] coordinates {(824.8,44.2)(843,40.9)(863.7,40.9)(868.9,41.1)(854,36.2)(843,33.8)(836.1,28.9)(828.2,39.3)} --cycle;
\addplot[tf] coordinates {(868.9,41.1)(879.2,67.2)(884.4,63.3)(898.1,59)(908.5,53)(914.3,57.3)(920.9,74.3)(928.4,86)(934.3,79.2)(939.4,83)(941.2,66.1)(929.1,60.6)(918.8,53)(901.6,51.3)(884.4,48.6)(875.7,45.3)} --cycle;
\addplot[rf] coordinates {(942.9,63.3)(956.7,51.3)(994.5,37.6)(994.5,26.2)(987.7,26.7)(977.3,30.9)(967,29.4)(958.4,26.9)(949.8,33.3)(946.3,43.1)} --cycle;
\addplot[tf] coordinates {(996.3,32.2)(999,77.4)(1003.2,65)(1013.5,64.8)(1021,59.5)(1021,53.5)(1008.3,49.7)(996.3,40.9)} --cycle;
\addplot[rf] coordinates {(1022.1,52.4)(1046.2,46.9)(1080,45.8)(1080,39.8)(1066.9,42)(1060,43.7)(1047.9,36.8)(1035.9,38.2)(1030.7,40.4)(1024.8,46.4)} --cycle;
\addplot[rf] coordinates {(1080,45.3)(1091.7,44.2)(1091.7,40.4)(1088.3,38.2)(1080,39.8)} --cycle;
\addplot[tf] coordinates {(1091.7,44.2)(1095.7,48.6)(1099.3,45.3)} --cycle;
\addplot[rf] coordinates {(1100,45.3)(1125,43.7)(1151.3,41.5)(1175,37.1)(1206.7,34.6)(1206.7,28.9)(1200,27.8)(1192.3,19.9)(1188.3,23.4)(1176.7,19.9)(1169.3,20.4)(1161.7,28.3)(1151.7,36)(1148.3,31.6)(1140,28.9)(1126.7,34.9)(1121.7,40.9)(1100,42.6)} --cycle;
\addplot[tf] coordinates {(1206.7,34.4)(1214.3,41.5)(1216,65)(1221.7,66.1)(1233.3,62)(1236.7,57.3)(1240,51.9)(1226.7,47.5)(1215,42)} --cycle;
\addplot[tf] coordinates {(1240,50.2)(1247.7,57.9)(1266,59.5)(1266,56.2)(1246.7,52.4)} --cycle;
\addplot[rf] coordinates {(1268.3,55.4)(1288.3,54.6)(1318.3,52.4)(1351.7,48.6)(1393.3,47.3)(1396,41.5)(1390,44.2)(1383.3,42.2)(1373.3,45.3)(1366.7,43.1)(1360,44.2)(1348.3,37.3)(1336.7,39.8)(1326,39.8)(1318.3,48)(1300,46.1)(1295,49.7)(1283.3,53)(1273.3,49.5)(1269.3,51.3)} --cycle;
\addplot[tf] coordinates {(1396.7,46.4)(1411.7,52.1)(1411.7,50.2)(1396.7,46.9)} --cycle;
\addplot[tf] coordinates {(1414.7,45.3)(1433.3,54.6)(1444.7,53.5)(1444.7,50.8)(1426.7,49.1)} --cycle;
\addplot[rf] coordinates {(1444.7,50.8)(1466.7,49.7)(1489.3,47.7)(1486,42.8)(1478.3,42)(1470,45.3)(1463.3,48)(1453.3,43.4)(1448.7,48.6)} --cycle;
\addplot[tf] coordinates {(1488.3,48.6)(1492.7,51.9)(1492.7,48)} --cycle;
% line
\addplot[forget plot,color=rsir,line width=1.1pt,line join=round] table[x=x,y=y]{\rsired};
\addplot[forget plot,color=rsit,line width=1.1pt,line join=round] table[x=x,y=y]{\rsiteal};
\end{axis}

% frame and divider
\draw[color=frame,line width=1pt] (10pt,{(906-27)*1pt}) rectangle (1590pt,{(906-872)*1pt});
\draw[color=frame,line width=1.5pt] (10pt,{(906-572)*1pt}) -- (1590pt,{(906-572)*1pt});

% legend text
\def\fsz{12.35}
\tl{10}{15.3}{HASHInvests200 published on TradingView.com, Sep 30, 2024 05:55 UTC}
\def\fsz{11.75}
\tl{17.8}{41.7}{Agape ATP Corporation, 1h, NASDAQ}
\def\fsz{12.1}
\tl{227.5}{41.7}{O}\tl[lgreen]{236.8}{41.7}{1.90}
\tl{266.4}{41.7}{H}\tl[lgreen]{274.6}{41.7}{1.93}
\tl{304.6}{41.7}{L}\tl[lgreen]{311}{41.7}{1.90}
\tl{340.7}{41.7}{C}\tl[lgreen]{349}{41.7}{1.93}
\tl[lgreen]{378.6}{41.7}{+0.02 (+1.05\%)}
\tl{469.6}{41.7}{Vol}\tl[lgreen]{487}{41.7}{905}
\tl{17.8}{58.3}{Vol}\tl[lgreen]{41.4}{58.3}{905}
\def\fsz{12.35}
\tl{17.8}{75}{MA Ribbon (8, 14, 20, 26, 32, 38, 44, 50, 60)}
\tl[valblue]{270.4}{75}{1.91}\tl[valblue]{297.5}{75}{1.91}\tl[valblue]{325.4}{75}{1.92}
\tl[valblue]{354.6}{75}{1.92}\tl[valblue]{384}{75}{1.92}\tl[valblue]{413.2}{75}{1.92}
\tl[valblue]{442.5}{75}{1.92}\tl[valblue]{471.8}{75}{1.92}\tl[magreen!85!black]{501}{75}{1.92}
\def\fsz{12}
\tl{18}{587.7}{(D7R) RSI+ (D7R, close, 14, 70, 30, 75, 25)}
\tl[white]{257}{587.7}{51.81}
\tl{527}{587.7}{{\djv ⌀}}\tl{542}{587.7}{{\djv ⌀}}
\tl[rsit]{553.8}{587.7}{51.94}

% Fibonacci labels
\def\fsz{13}
\tr[fiborange!80]{1439.5}{78.3}{0.382 (6.83)}
\tr[fibgreen!80]{1439.5}{156.4}{0.5 (5.88)}
\tr[cgreen!80]{1439.5}{233.7}{0.618 (4.94)}
\tr[fibcyan!80]{1439.5}{343.9}{0.786 (3.60)}

% price tags
\def\fsz{12.85}
\tr{1580}{558}{100}
\fill[tagblue] (1534pt,{(906-572)*1pt}) rectangle (1572pt,{(906-490)*1pt});
\fill[cgreen,rounded corners=2pt] (1494pt,{(906-490)*1pt}) rectangle (1532.5pt,{(906-474)*1pt});
\fill[cgreen,rounded corners=2pt] (1534pt,{(906-490)*1pt}) rectangle (1572pt,{(906-474)*1pt});
\def\fsz{11.4}
\tc[white]{1513}{482}{ATPC}
\def\fsz{12.85}
\tc[white]{1553}{482}{1.93}
\tc[white]{1553}{498}{1.92}\tc[white]{1553}{515}{1.92}\tc[white]{1553}{531.7}{1.92}\tc[white]{1553}{548}{1.92}\tc[white]{1553}{564}{1.92}

% RSI right labels
\tl{1541}{638.7}{75.00}
\fill[rsit,rounded corners=1pt] (1533pt,{(906-702)*1pt}) rectangle (1578pt,{(906-686)*1pt});
\tl{1541}{694}{51.94}
\tl{1541}{710.3}{51.82}
\tl{1541}{727}{50.00}
\tl{1541}{743.7}{48.36}
\tl{1541}{792.7}{25.00}

% event markers
\draw[fill=white,draw=txt!85,line width=1.4pt,rounded corners=2pt] (689.5pt,{(906-567.5)*1pt}) rectangle (707pt,{(906-550.5)*1pt});
\tc{698}{559}{\textbf{E}}
\draw[fill=white,draw=fiborange,line width=1.6pt] (999pt,{(906-559.3)*1pt}) circle (9.2pt);
\tc[fiborange]{999}{559.3}{\textbf{S}}
\draw[fill=white,draw=violet!85,line width=1.5pt] (1493pt,{(906-559)*1pt}) circle (9.5pt);
\tc[violet!85]{1493}{559}{{\djv\fontsize{11}{12}\selectfont ⚡}}

% logo
\fill[black] (9.6pt,{(906-883)*1pt}) rectangle (19.5pt,{(906-887)*1pt});
\fill[black] (13pt,{(906-887)*1pt}) rectangle (17.5pt,{(906-893)*1pt});
\fill[black] (21.3pt,{(906-885)*1pt}) circle (2pt);
\fill[black] (24pt,{(906-883)*1pt}) -- (28.6pt,{(906-883)*1pt}) -- (23pt,{(906-893)*1pt}) -- (18.7pt,{(906-893)*1pt}) -- cycle;
\node[anchor=base west,inner sep=0pt,text=txt,font=\fontsize{13}{16}\selectfont] at (33pt,{(906-889-4.5)*1pt}) {TradingView};
\end{tikzpicture}
\end{document}
